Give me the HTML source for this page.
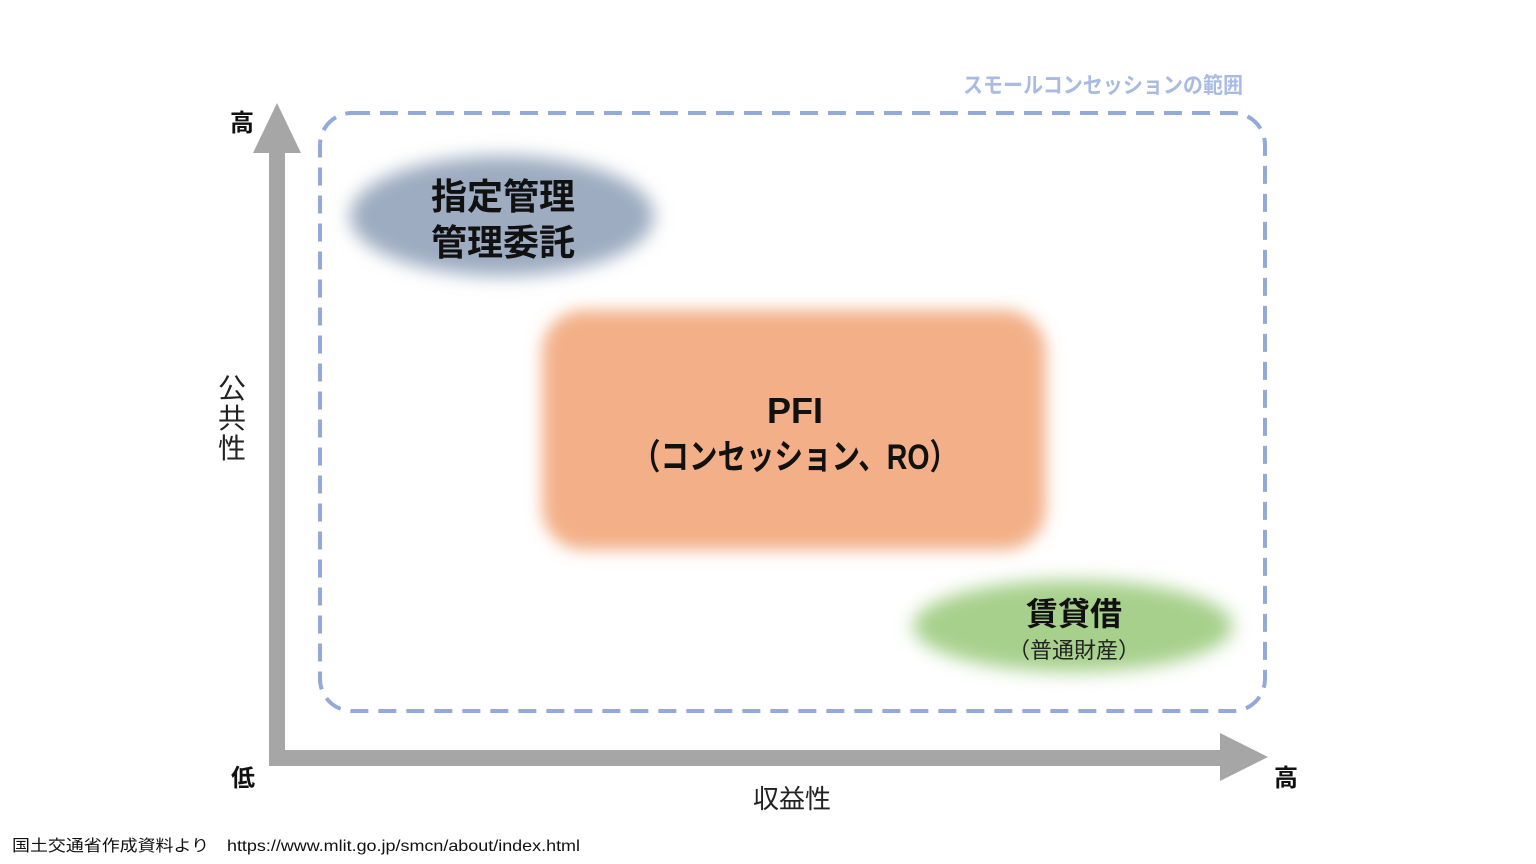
<!DOCTYPE html>
<html><head><meta charset="utf-8"><style>
html,body{margin:0;padding:0;background:#fff;}
svg{display:block}
text{font-family:"Liberation Sans","Noto Sans CJK JP",sans-serif;}
</style></head><body>
<svg width="1536" height="864" viewBox="0 0 1536 864" xmlns="http://www.w3.org/2000/svg">
<defs>
<filter id="b1" x="-30%" y="-50%" width="160%" height="200%"><feGaussianBlur stdDeviation="9"/></filter>
<filter id="b2" x="-20%" y="-20%" width="140%" height="140%"><feGaussianBlur stdDeviation="8"/></filter>
</defs>
<rect width="1536" height="864" fill="#fff"/>
<polygon points="277,103 301,153 285,153 285,750 1220,750 1220,733 1268,757 1220,781 1220,766 269,766 269,153 253,153" fill="#a6a6a6"/>
<rect x="320" y="113" width="945" height="598" rx="32" fill="none" stroke="#92a9da" stroke-width="4" stroke-dasharray="18 10"/>
<text x="1243" y="93" text-anchor="end" font-size="22" font-weight="bold" fill="#a9bbe3" textLength="280" lengthAdjust="spacingAndGlyphs">スモールコンセッションの範囲</text>
<ellipse cx="502" cy="216" rx="152" ry="60" fill="#9dacc1" filter="url(#b1)"/>
<rect x="542" y="310" width="504" height="240" rx="42" fill="#f3b088" filter="url(#b2)"/>
<ellipse cx="1073" cy="626" rx="160" ry="46" fill="#a7d08c" filter="url(#b1)"/>
<g font-weight="bold" fill="#111" text-anchor="middle">
<text x="503" y="209" font-size="36">指定管理</text>
<text x="503" y="255" font-size="36">管理委託</text>
<text x="795" y="423" font-size="36">PFI</text>
<text x="795" y="469" font-size="35" textLength="326" lengthAdjust="spacingAndGlyphs">（コンセッション、RO）</text>
<text x="1074" y="625" font-size="32">賃貸借</text>
<text x="242" y="131" font-size="24">高</text>
<text x="243" y="786" font-size="24">低</text>
<text x="1286" y="786" font-size="24">高</text>
</g>
<text x="1074" y="658" font-size="22" fill="#222" text-anchor="middle">（普通財産）</text>
<g font-size="28" fill="#222" text-anchor="middle">
<text x="232" y="398">公</text>
<text x="232" y="428">共</text>
<text x="232" y="458">性</text>
</g>
<text x="792" y="808" font-size="26" fill="#222" text-anchor="middle">収益性</text>
<text x="12" y="851" font-size="16" fill="#111" textLength="568" lengthAdjust="spacingAndGlyphs">国土交通省作成資料より　https://www.mlit.go.jp/smcn/about/index.html</text>
</svg>
</body></html>
